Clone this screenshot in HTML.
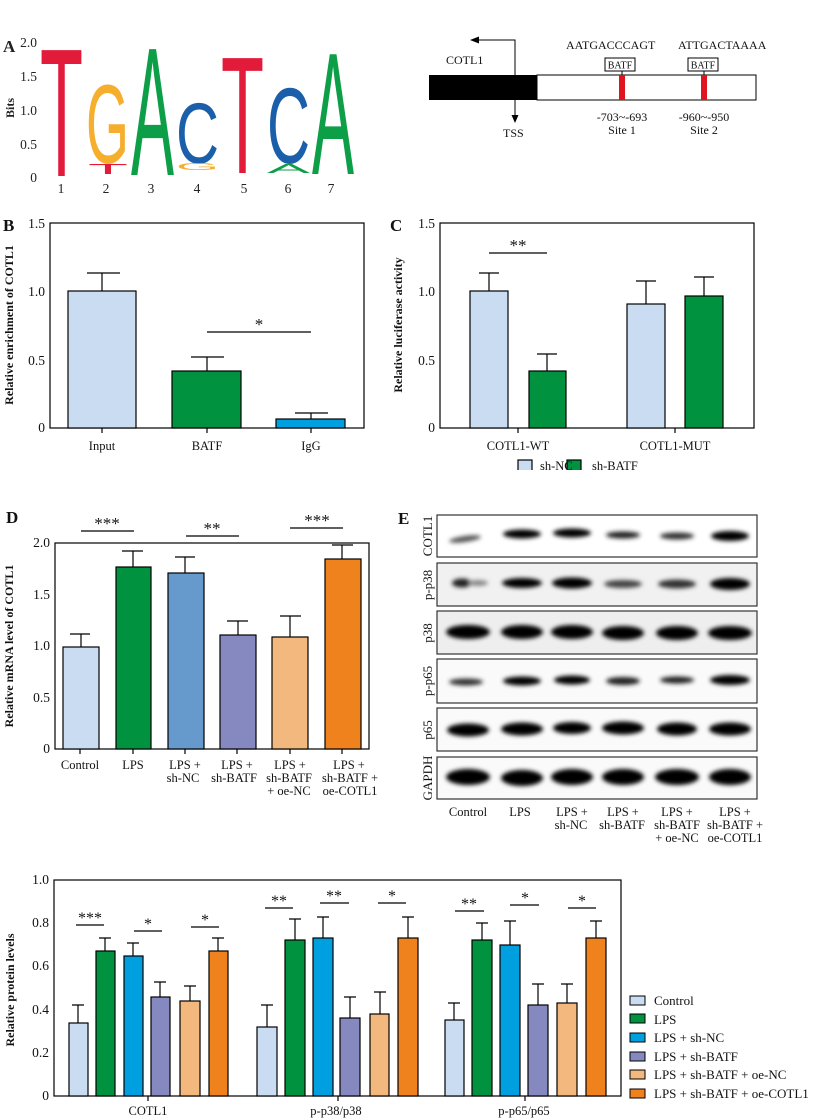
<!DOCTYPE html>
<html><head><meta charset="utf-8"><style>
html,body{margin:0;padding:0;background:#fff;}
svg{display:block;font-family:"Liberation Serif",serif;}
.t{font-size:13.5px}
.ax{font-weight:bold;font-size:12px}
</style></head><body>
<svg width="814" height="1120" viewBox="0 0 814 1120" xmlns="http://www.w3.org/2000/svg">
<defs>
<filter id="bl" x="-30%" y="-100%" width="160%" height="300%"><feGaussianBlur stdDeviation="2.2"/></filter>
</defs>
<g font-family="Liberation Sans, sans-serif" font-size="100">
<text transform="translate(40,176) scale(1,1.83)" textLength="43" lengthAdjust="spacingAndGlyphs" fill="#e31b3b">T</text>
<text transform="translate(86,163) scale(1,1.12)" textLength="43" lengthAdjust="spacingAndGlyphs" fill="#f6ae2d">G</text>
<text transform="translate(88,174) scale(1,0.15)" textLength="40" lengthAdjust="spacingAndGlyphs" fill="#e31b3b">T</text>
<text transform="translate(131,175) scale(1,1.83)" textLength="43" lengthAdjust="spacingAndGlyphs" fill="#0d9f48">A</text>
<text transform="translate(176,163) scale(1,0.86)" textLength="43" lengthAdjust="spacingAndGlyphs" fill="#1b5fab">C</text>
<text transform="translate(176,170) scale(1,0.1)" textLength="43" lengthAdjust="spacingAndGlyphs" fill="#f6ae2d">G</text>
<text transform="translate(221,173) scale(1,1.67)" textLength="43" lengthAdjust="spacingAndGlyphs" fill="#e31b3b">T</text>
<text transform="translate(267,163) scale(1,1.08)" textLength="43" lengthAdjust="spacingAndGlyphs" fill="#1b5fab">C</text>
<text transform="translate(267,173) scale(1,0.13)" textLength="43" lengthAdjust="spacingAndGlyphs" fill="#0d9f48">A</text>
<text transform="translate(312,174) scale(1,1.74)" textLength="42" lengthAdjust="spacingAndGlyphs" fill="#0d9f48">A</text>
</g>
<g font-size="13.5" fill="#222">
<text x="3" y="52" font-weight="bold" font-size="17">A</text>
<g text-anchor="end"><text x="37" y="47">2.0</text><text x="37" y="81">1.5</text><text x="37" y="115">1.0</text><text x="37" y="149">0.5</text><text x="37" y="182">0</text></g>
<text transform="translate(14,108) rotate(-90)" text-anchor="middle" font-weight="bold" font-size="12">Bits</text>
<g text-anchor="middle"><text x="61" y="193">1</text><text x="106" y="193">2</text><text x="151" y="193">3</text><text x="197" y="193">4</text><text x="244" y="193">5</text><text x="288" y="193">6</text><text x="331" y="193">7</text></g>
</g>
<g font-size="12" fill="#111">
<rect x="429" y="75" width="108" height="25" fill="#000"/>
<rect x="537" y="75" width="219" height="25" fill="#fff" stroke="#000"/>
<rect x="619" y="75" width="6" height="25" fill="#e0141e"/>
<rect x="701" y="75" width="6" height="25" fill="#e0141e"/>
<rect x="605" y="58" width="30" height="13" fill="#fff" stroke="#000"/>
<rect x="688" y="58" width="30" height="13" fill="#fff" stroke="#000"/>
<text x="620" y="68.5" text-anchor="middle" font-size="10">BATF</text>
<text x="703" y="68.5" text-anchor="middle" font-size="10">BATF</text>
<line x1="622" y1="71" x2="622" y2="75" stroke="#000"/><line x1="704" y1="71" x2="704" y2="75" stroke="#000"/>
<text x="566" y="49">AATGACCCAGT</text><text x="678" y="49">ATTGACTAAAA</text>
<text x="446" y="64">COTL1</text>
<path d="M515 75 V40 H478" fill="none" stroke="#000"/><path d="M470 40 l9 -3.5 v7z" fill="#000"/>
<path d="M515 100 V117" stroke="#000"/><path d="M515 123 l-3.5 -8 h7z" fill="#000"/>
<text x="503" y="137">TSS</text>
<text x="622" y="121" text-anchor="middle">-703~-693</text><text x="622" y="134" text-anchor="middle">Site 1</text>
<text x="704" y="121" text-anchor="middle">-960~-950</text><text x="704" y="134" text-anchor="middle">Site 2</text>
</g>
<!-- B -->
<g font-size="12.5" fill="#111" stroke-width="1.2">
<text x="3" y="231" font-weight="bold" font-size="17">B</text>
<rect x="50" y="223" width="314" height="205" fill="none" stroke="#000"/>
<g text-anchor="end" class="t"><text x="45" y="432">0</text><text x="45" y="365">0.5</text><text x="45" y="296">1.0</text><text x="45" y="228">1.5</text></g>
<text transform="translate(13,325) rotate(-90)" text-anchor="middle" class="ax">Relative enrichment of COTL1</text>
<g stroke="#000">
<path d="M102 291V273M87 273H120M207 371V357M191 357H224M311 419V413M295 413H328M207 332H311M102 428v5M207 428v5M311 428v5" fill="none"/>
<rect x="68" y="291" width="68" height="137" fill="#c9dcf2"/>
<rect x="172" y="371" width="69" height="57" fill="#00923f"/>
<rect x="276" y="419" width="69" height="9" fill="#00a0e0"/>
</g>
<text x="259" y="330" text-anchor="middle" font-size="17">*</text>
<g text-anchor="middle"><text x="102" y="450">Input</text><text x="207" y="450">BATF</text><text x="311" y="450">IgG</text></g>
</g>
<!-- C -->
<g font-size="12.5" fill="#111" stroke-width="1.2">
<text x="390" y="231" font-weight="bold" font-size="17">C</text>
<rect x="440" y="223" width="314" height="205" fill="none" stroke="#000"/>
<g text-anchor="end" class="t"><text x="435" y="432">0</text><text x="435" y="365">0.5</text><text x="435" y="296">1.0</text><text x="435" y="228">1.5</text></g>
<text transform="translate(402,325) rotate(-90)" text-anchor="middle" class="ax">Relative luciferase activity</text>
<g stroke="#000">
<path d="M489 291V273M479 273H499M547 371V354M537 354H557M646 304V281M636 281H656M704 296V277M694 277H714M489 253H547M518 428v5M675 428v5" fill="none"/>
<rect x="470" y="291" width="38" height="137" fill="#c9dcf2"/>
<rect x="529" y="371" width="37" height="57" fill="#00923f"/>
<rect x="627" y="304" width="38" height="124" fill="#c9dcf2"/>
<rect x="685" y="296" width="38" height="132" fill="#00923f"/>
</g>
<text x="518" y="251" text-anchor="middle" font-size="17">**</text>
<g text-anchor="middle"><text x="518" y="450">COTL1-WT</text><text x="675" y="450">COTL1-MUT</text></g>
<rect x="518" y="460" width="14" height="12" fill="#c9dcf2" stroke="#000"/>
<rect x="567" y="460" width="14" height="12" fill="#00923f" stroke="#000"/>
<text x="540" y="470">sh-NC</text><text x="592" y="470">sh-BATF</text>
<rect x="500" y="470" width="150" height="10" fill="#fff"/>
</g>
<!-- D -->
<g font-size="12.5" fill="#111" stroke-width="1.2">
<text x="6" y="523" font-weight="bold" font-size="17">D</text>
<rect x="55" y="543" width="314" height="206" fill="none" stroke="#000"/>
<g text-anchor="end" class="t"><text x="50" y="753">0</text><text x="50" y="702">0.5</text><text x="50" y="650">1.0</text><text x="50" y="599">1.5</text><text x="50" y="547">2.0</text></g>
<text transform="translate(13,646) rotate(-90)" text-anchor="middle" class="ax">Relative mRNA level of COTL1</text>
<g stroke="#000">
<path d="M81 647V634M70 634H90M133 567V551M122 551H143M185 573V557M175 557H195M238 635V621M227 621H248M290 637V616M280 616H301M342 559V545M332 545H353M81 531H134M186 536H239M290 528H343" fill="none"/>
<path d="M80 749v5M133 749v5M185 749v5M237 749v5M290 749v5M342 749v5" stroke="#000"/>
<rect x="63" y="647" width="36" height="102" fill="#c9dcf2"/>
<rect x="116" y="567" width="35" height="182" fill="#00923f"/>
<rect x="168" y="573" width="36" height="176" fill="#6699cc"/>
<rect x="220" y="635" width="36" height="114" fill="#8688c0"/>
<rect x="272" y="637" width="36" height="112" fill="#f2b87e"/>
<rect x="325" y="559" width="36" height="190" fill="#f0821e"/>
</g>
<g text-anchor="middle" font-size="17"><text x="107" y="529">***</text><text x="212" y="534">**</text><text x="317" y="526">***</text></g>
<g text-anchor="middle">
<text x="80" y="769">Control</text><text x="133" y="769">LPS</text>
<text x="185" y="769">LPS +</text><text x="183" y="782">sh-NC</text>
<text x="237" y="769">LPS +</text><text x="234" y="782">sh-BATF</text>
<text x="290" y="769">LPS +</text><text x="289" y="782">sh-BATF</text><text x="289" y="795">+ oe-NC</text>
<text x="349" y="769">LPS +</text><text x="350" y="782">sh-BATF +</text><text x="350" y="795">oe-COTL1</text>
</g>
</g>
<!-- E -->
<g font-size="12.5" fill="#111">
<text x="398" y="524" font-weight="bold" font-size="17">E</text>
<g stroke="#333" stroke-width="1.2">
<rect x="437" y="515" width="320" height="42" fill="#fff"/>
<rect x="437" y="563" width="320" height="43" fill="#f1f1f1"/>
<rect x="437" y="611" width="320" height="43" fill="#eeeeee"/>
<rect x="437" y="659" width="320" height="44" fill="#fafafa"/>
<rect x="437" y="708" width="320" height="43" fill="#fafafa"/>
<rect x="437" y="757" width="320" height="42" fill="#fafafa"/>
</g>
<g fill="#000" filter="url(#bl)">
<ellipse cx="465" cy="539" rx="16" ry="3" fill="#555" transform="rotate(-8 465 539)"/>
<ellipse cx="522" cy="534" rx="19" ry="4.5"/><ellipse cx="572" cy="533" rx="19" ry="4.5"/>
<ellipse cx="623" cy="535" rx="17" ry="3.5" fill="#222"/><ellipse cx="677" cy="536" rx="17" ry="3.5" fill="#333"/>
<ellipse cx="730" cy="536" rx="19" ry="5"/>
<ellipse cx="462" cy="583" rx="10" ry="4.5" fill="#222"/><ellipse cx="478" cy="583" rx="10" ry="3" fill="#888"/>
<ellipse cx="522" cy="583" rx="20" ry="5"/><ellipse cx="572" cy="583" rx="20" ry="5.5"/>
<ellipse cx="623" cy="584" rx="19" ry="4" fill="#444"/><ellipse cx="677" cy="584" rx="19" ry="4.5" fill="#333"/>
<ellipse cx="730" cy="584" rx="20" ry="6"/>
<ellipse cx="468" cy="632" rx="22" ry="7"/><ellipse cx="522" cy="632" rx="21" ry="7"/><ellipse cx="572" cy="632" rx="21" ry="7"/>
<ellipse cx="623" cy="633" rx="21" ry="7"/><ellipse cx="677" cy="633" rx="21" ry="7"/><ellipse cx="730" cy="633" rx="22" ry="7"/>
<ellipse cx="466" cy="682" rx="17" ry="3.5" fill="#333"/><ellipse cx="522" cy="681" rx="19" ry="4.5"/><ellipse cx="572" cy="680" rx="18" ry="4.5"/>
<ellipse cx="623" cy="681" rx="17" ry="4" fill="#222"/><ellipse cx="677" cy="680" rx="17" ry="3.5" fill="#222"/><ellipse cx="730" cy="680" rx="20" ry="5"/>
<ellipse cx="468" cy="730" rx="21" ry="6.5"/><ellipse cx="522" cy="729" rx="21" ry="6.5"/><ellipse cx="572" cy="728" rx="19" ry="6"/>
<ellipse cx="623" cy="728" rx="21" ry="6.5"/><ellipse cx="677" cy="729" rx="20" ry="6.5"/><ellipse cx="730" cy="729" rx="21" ry="6.5"/>
<ellipse cx="468" cy="777" rx="22" ry="8"/><ellipse cx="522" cy="778" rx="21" ry="8"/><ellipse cx="572" cy="777" rx="21" ry="8"/>
<ellipse cx="623" cy="777" rx="21" ry="8"/><ellipse cx="677" cy="777" rx="22" ry="8"/><ellipse cx="730" cy="777" rx="21" ry="8"/>
</g>
<g text-anchor="middle" font-size="13">
<text transform="translate(432,536) rotate(-90)">COTL1</text>
<text transform="translate(432,585) rotate(-90)">p-p38</text>
<text transform="translate(432,633) rotate(-90)">p38</text>
<text transform="translate(432,681) rotate(-90)">p-p65</text>
<text transform="translate(432,730) rotate(-90)">p65</text>
<text transform="translate(432,778) rotate(-90)">GAPDH</text>
</g>
<g text-anchor="middle">
<text x="468" y="816">Control</text><text x="520" y="816">LPS</text>
<text x="572" y="816">LPS +</text><text x="571" y="829">sh-NC</text>
<text x="623" y="816">LPS +</text><text x="622" y="829">sh-BATF</text>
<text x="677" y="816">LPS +</text><text x="677" y="829">sh-BATF</text><text x="677" y="842">+ oe-NC</text>
<text x="735" y="816">LPS +</text><text x="735" y="829">sh-BATF +</text><text x="735" y="842">oe-COTL1</text>
</g>
</g>
<!-- bottom -->
<g font-size="12.5" fill="#111" stroke-width="1.2">
<rect x="54" y="880" width="567" height="216" fill="none" stroke="#000"/>
<g text-anchor="end" class="t"><text x="49" y="1100">0</text><text x="49" y="1057">0.2</text><text x="49" y="1014">0.4</text><text x="49" y="970">0.6</text><text x="49" y="927">0.8</text><text x="49" y="884">1.0</text></g>
<text transform="translate(14,990) rotate(-90)" text-anchor="middle" class="ax">Relative protein levels</text>
<g stroke="#000">
<rect x="69" y="1023" width="19" height="73" fill="#c9dcf2"/>
<rect x="96" y="951" width="19" height="145" fill="#00923f"/>
<rect x="124" y="956" width="19" height="140" fill="#00a0e0"/>
<rect x="151" y="997" width="19" height="99" fill="#8688c0"/>
<rect x="180" y="1001" width="20" height="95" fill="#f2b87e"/>
<rect x="209" y="951" width="19" height="145" fill="#f0821e"/>
<rect x="257" y="1027" width="20" height="69" fill="#c9dcf2"/>
<rect x="285" y="940" width="20" height="156" fill="#00923f"/>
<rect x="313" y="938" width="20" height="158" fill="#00a0e0"/>
<rect x="340" y="1018" width="20" height="78" fill="#8688c0"/>
<rect x="370" y="1014" width="19" height="82" fill="#f2b87e"/>
<rect x="398" y="938" width="20" height="158" fill="#f0821e"/>
<rect x="445" y="1020" width="19" height="76" fill="#c9dcf2"/>
<rect x="472" y="940" width="20" height="156" fill="#00923f"/>
<rect x="500" y="945" width="20" height="151" fill="#00a0e0"/>
<rect x="528" y="1005" width="20" height="91" fill="#8688c0"/>
<rect x="557" y="1003" width="20" height="93" fill="#f2b87e"/>
<rect x="586" y="938" width="20" height="158" fill="#f0821e"/>
<path fill="none" d="
M78 1023V1005M72 1005H84 M105 951V938M99 938H111 M133 956V943M127 943H139 M160 997V982M154 982H166 M190 1001V986M184 986H196 M218 951V938M212 938H224
M267 1027V1005M261 1005H273 M295 940V919M289 919H301 M323 938V917M317 917H329 M350 1018V997M344 997H356 M380 1014V992M374 992H386 M408 938V917M402 917H414
M454 1020V1003M448 1003H460 M482 940V923M476 923H488 M510 945V921M504 921H516 M538 1005V984M532 984H544 M567 1003V984M561 984H573 M596 938V921M590 921H602
M76 925H104 M134 931H162 M191 927H219 M265 908H293 M320 903H349 M378 903H406 M455 911H484 M510 905H539 M568 908H596
M148 1096v5M338 1096v5M525 1096v5"/>
</g>
<g text-anchor="middle" font-size="16">
<text x="90" y="923">***</text><text x="148" y="929">*</text><text x="205" y="925">*</text>
<text x="279" y="906">**</text><text x="334" y="901">**</text><text x="392" y="901">*</text>
<text x="469" y="909">**</text><text x="525" y="903">*</text><text x="582" y="906">*</text>
</g>
<g text-anchor="middle"><text x="148" y="1115">COTL1</text><text x="336" y="1115">p-p38/p38</text><text x="524" y="1115">p-p65/p65</text></g>
<g stroke="#000" stroke-width="1">
<rect x="630" y="996" width="15" height="9" fill="#c9dcf2"/>
<rect x="630" y="1014" width="15" height="9" fill="#00923f"/>
<rect x="630" y="1033" width="15" height="9" fill="#00a0e0"/>
<rect x="630" y="1052" width="15" height="9" fill="#8688c0"/>
<rect x="630" y="1070" width="15" height="9" fill="#f2b87e"/>
<rect x="630" y="1089" width="15" height="9" fill="#f0821e"/>
</g>
<g font-size="13">
<text x="654" y="1005">Control</text><text x="654" y="1024">LPS</text><text x="654" y="1042">LPS + sh-NC</text>
<text x="654" y="1061">LPS + sh-BATF</text><text x="654" y="1079">LPS + sh-BATF + oe-NC</text><text x="654" y="1098">LPS + sh-BATF + oe-COTL1</text>
</g>
</g>
</svg>
</body></html>
